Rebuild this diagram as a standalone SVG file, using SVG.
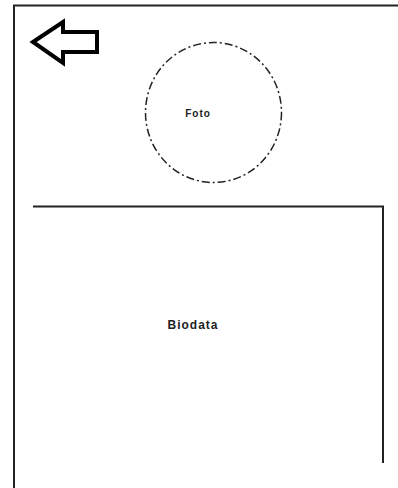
<svg xmlns="http://www.w3.org/2000/svg" width="398" height="488" viewBox="0 0 398 488">
<style>
.ln{fill:none;stroke:#222;stroke-width:2}
.lbl{font-family:"Liberation Sans",Arial,sans-serif;font-weight:bold;fill:#222;text-anchor:middle;dominant-baseline:middle;letter-spacing:1px}
</style>
<rect width="398" height="488" fill="#fff"/>
<g id="frame"><path class="ln" d="M14,488 V5.5 H398"/></g>
<g id="back-arrow"><polygon points="33,42 63,22 63,32 97,32 97,52 63,52 63,63" fill="none" stroke="#000" stroke-width="4" stroke-linejoin="miter"/></g>
<g id="foto"><ellipse cx="213.5" cy="112.5" rx="68" ry="70" fill="none" stroke="#222" stroke-width="1.5" stroke-dasharray="8,3,2,3"/><text class="lbl" x="198" y="114" font-size="10">Foto</text></g>
<g id="biodata"><path class="ln" d="M33,206.5 H383 V463"/><text class="lbl" x="193" y="326" font-size="12">Biodata</text></g>
<g id="connectors"></g>
</svg>
